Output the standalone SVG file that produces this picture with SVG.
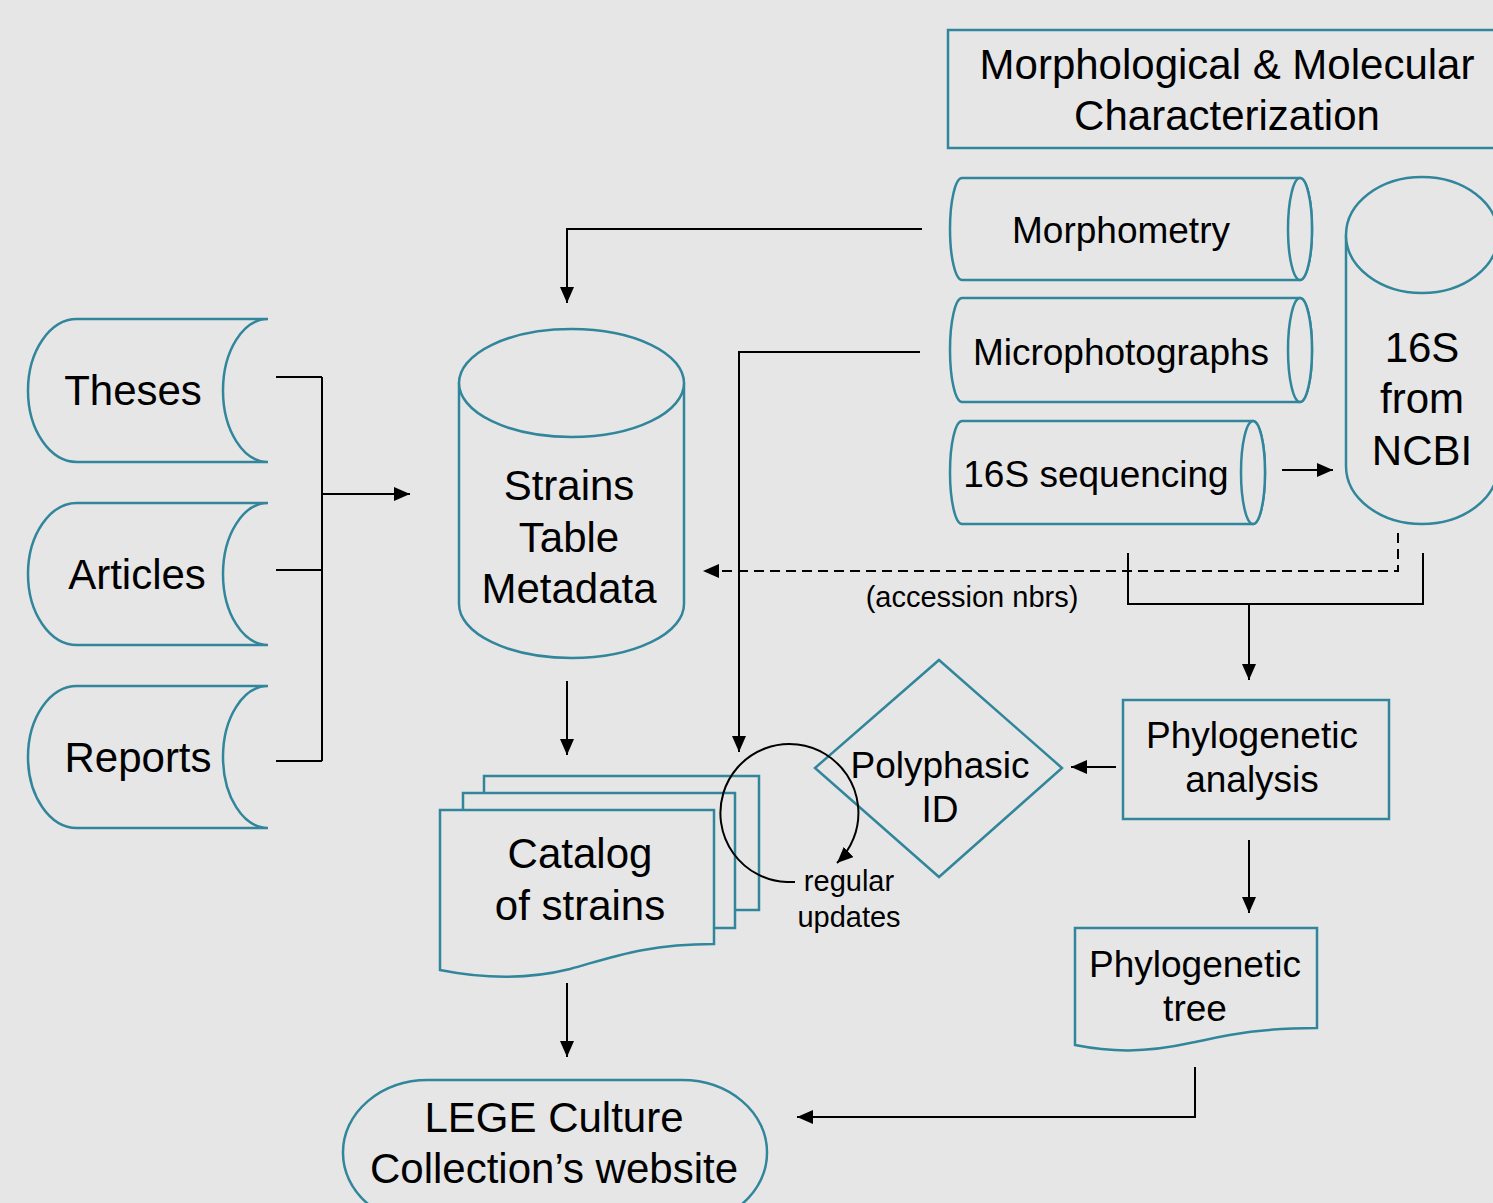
<svg xmlns="http://www.w3.org/2000/svg" width="1493" height="1203" viewBox="0 0 1493 1203">
<defs>
<style>
.shape{fill:#e6e6e6;stroke:#31869b;stroke-width:2.5}
.conn{fill:none;stroke:#000;stroke-width:2}
.t{font-family:"Liberation Sans",Arial,sans-serif;fill:#000;text-anchor:middle}
.big{font-size:42px}
.mid{font-size:37px}
.sm{font-size:29px}
</style>
<marker id="ah" viewBox="0 0 16 14" refX="16" refY="7" markerWidth="16" markerHeight="14" orient="auto" markerUnits="userSpaceOnUse">
<path d="M0,0 L16,7 L0,14 z" fill="#000"/>
</marker>
</defs>
<rect x="0" y="0" width="1493" height="1203" fill="#e6e6e6"/>

<g id="node-characterization">
<rect class="shape" x="948" y="30" width="560" height="118"/>
<text class="t big" x="1227" y="79">Morphological &amp; Molecular</text>
<text class="t big" x="1227" y="130">Characterization</text>
</g>

<g id="node-morphometry">
<path class="shape" d="M962 178 H1300 A12 51 0 0 1 1300 280 H962 A12 51 0 0 1 962 178 Z"/>
<ellipse class="shape" cx="1300" cy="229" rx="12" ry="51"/>
<text class="t mid" x="1121" y="243">Morphometry</text>
</g>

<g id="node-microphotographs">
<path class="shape" d="M962 298 H1300 A12 52 0 0 1 1300 402 H962 A12 52 0 0 1 962 298 Z"/>
<ellipse class="shape" cx="1300" cy="350" rx="12" ry="52"/>
<text class="t mid" x="1121" y="365">Microphotographs</text>
</g>

<g id="node-16s-seq">
<path class="shape" d="M962 421 H1253 A12 51.5 0 0 1 1253 524 H962 A12 51.5 0 0 1 962 421 Z"/>
<ellipse class="shape" cx="1253" cy="472.5" rx="12" ry="51.5"/>
<text class="t mid" x="1096" y="487">16S sequencing</text>
</g>

<g id="node-ncbi">
<path class="shape" d="M1346 235 V466 A76 58 0 0 0 1498 466 V235 A76 58 0 0 0 1346 235 Z"/>
<path class="shape" d="M1346 235 A76 58 0 0 0 1498 235"/>
<text class="t big" x="1422" y="362">16S</text>
<text class="t big" x="1422" y="413">from</text>
<text class="t big" x="1422" y="465">NCBI</text>
</g>

<g id="node-theses">
<path class="shape" d="M268 319 H77 A49 71.5 0 0 0 77 462 H268 A45 71.5 0 0 1 268 319"/>
<text class="t big" x="133" y="405">Theses</text>
</g>
<g id="node-articles">
<path class="shape" d="M268 503 H77 A49 71 0 0 0 77 645 H268 A45 71 0 0 1 268 503"/>
<text class="t big" x="137" y="589">Articles</text>
</g>
<g id="node-reports">
<path class="shape" d="M268 686 H77 A49 71 0 0 0 77 828 H268 A45 71 0 0 1 268 686"/>
<text class="t big" x="138" y="772">Reports</text>
</g>

<g id="node-strains">
<path class="shape" d="M459 383 V604 A112.5 54 0 0 0 684 604 V383 A112.5 54 0 0 0 459 383 Z"/>
<path class="shape" d="M459 383 A112.5 54 0 0 0 684 383"/>
<text class="t big" x="569" y="500">Strains</text>
<text class="t big" x="569" y="552">Table</text>
<text class="t big" x="569" y="603">Metadata</text>
</g>

<g id="node-catalog">
<rect class="shape" x="484" y="776" width="275" height="134"/>
<rect class="shape" x="463" y="793" width="272" height="135"/>
<path class="shape" d="M440 810 H714 V944 C645 944 610 958 570 969 C530 979 485 979 440 970 Z"/>
<text class="t big" x="580" y="868">Catalog</text>
<text class="t big" x="580" y="920">of strains</text>
</g>

<g id="node-polyphasic">
<polygon class="shape" points="939,660 1062,768 939,877 815,768"/>
<text class="t mid" x="940" y="778">Polyphasic</text>
<text class="t mid" x="940" y="822">ID</text>
</g>

<g id="node-phylo-analysis">
<rect class="shape" x="1123" y="700" width="266" height="119"/>
<text class="t mid" x="1252" y="748">Phylogenetic</text>
<text class="t mid" x="1252" y="792">analysis</text>
</g>

<g id="node-phylo-tree">
<path class="shape" d="M1075 928 H1317 V1028 C1255 1028 1225 1036 1190 1043 C1145 1053 1110 1052 1075 1045 Z"/>
<text class="t mid" x="1195" y="977">Phylogenetic</text>
<text class="t mid" x="1195" y="1021">tree</text>
</g>

<g id="node-website">
<rect class="shape" x="343" y="1080" width="424" height="145" rx="85" ry="72"/>
<text class="t big" x="554" y="1132">LEGE Culture</text>
<text class="t big" x="554" y="1183">Collection’s website</text>
</g>

<g id="connectors">
<path class="conn" d="M276 377 H322 M276 570 H322 M276 761 H322 M322 377 V761"/>
<path class="conn" d="M322 494 H410" marker-end="url(#ah)"/>
<path class="conn" d="M922 229 H567 V303" marker-end="url(#ah)"/>
<path class="conn" d="M920 352 H739 V752" marker-end="url(#ah)"/>
<path class="conn" d="M567 681 V755" marker-end="url(#ah)"/>
<path class="conn" d="M567 983 V1057" marker-end="url(#ah)"/>
<path class="conn" d="M1398 533 V571 H703" stroke-dasharray="10,6" marker-end="url(#ah)"/>
<path class="conn" d="M1282 470 H1333" marker-end="url(#ah)"/>
<path class="conn" d="M1128 553 V604 H1423 V553"/>
<path class="conn" d="M1249 604 V680" marker-end="url(#ah)"/>
<path class="conn" d="M1116 767 H1071" marker-end="url(#ah)"/>
<path class="conn" d="M1249 840 V913" marker-end="url(#ah)"/>
<path class="conn" d="M1195 1067 V1117 H797" marker-end="url(#ah)"/>
<path class="conn" d="M795 882 H787 A69 69 0 1 1 837 863" marker-end="url(#ah)"/>
<text class="t sm" x="972" y="607">(accession nbrs)</text>
<text class="t sm" x="849" y="891">regular</text>
<text class="t sm" x="849" y="927">updates</text>
</g>
</svg>
